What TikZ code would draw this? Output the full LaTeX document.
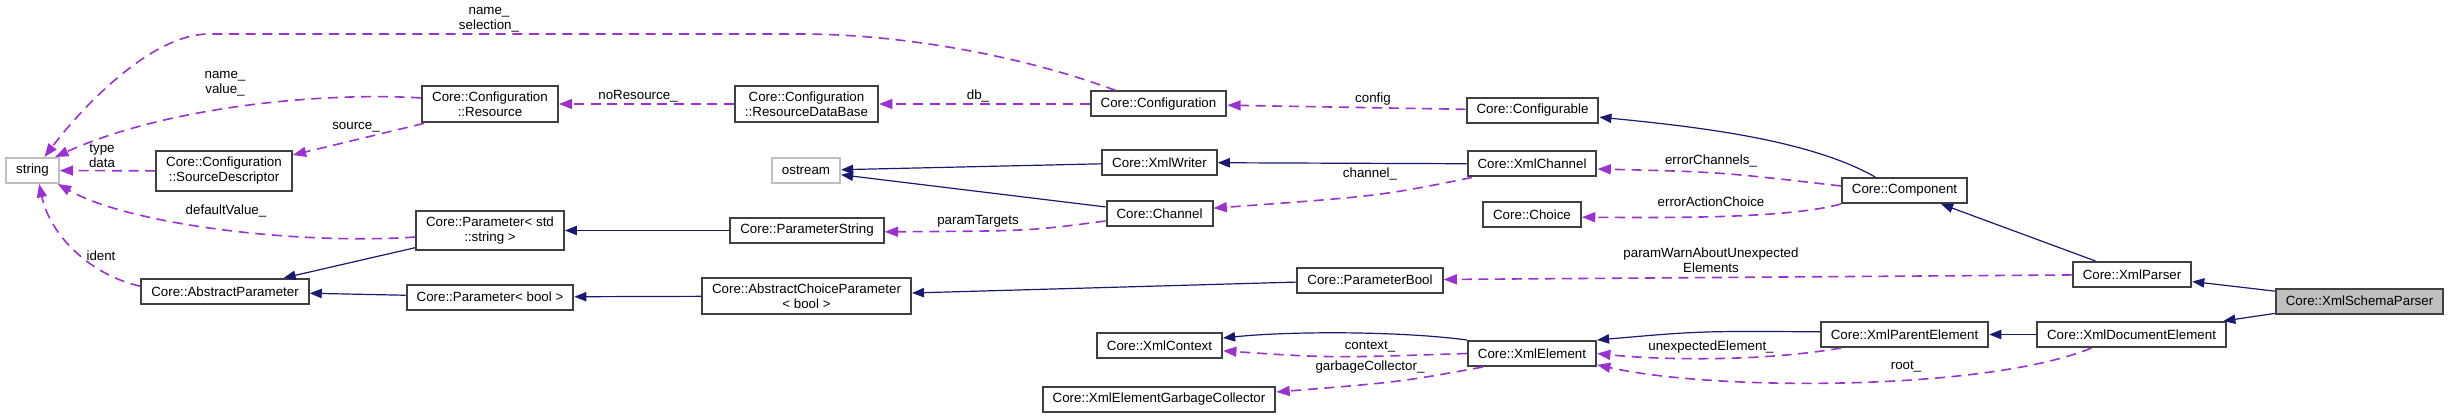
\documentclass[tikz,border=0pt]{standalone}
\usepackage{fontspec}
\setmainfont{Liberation Sans}
\usetikzlibrary{arrows.meta}
\definecolor{edgeblue}{HTML}{191970}
\definecolor{edgepurple}{HTML}{9A32CD}

\begin{document}
\begin{tikzpicture}[
        x=0.75pt, y=-0.75pt,
        font=\fontsize{10}{11.25}\selectfont,
        cls/.style={draw=black!75, line width=1.5pt, fill=white, align=center, inner xsep=7.5pt, inner ysep=4.5pt, minimum height=18.75pt},
        ext/.style={cls, draw=black!25},
        focus/.style={cls, fill=black!25},
        inherit/.style={-{Triangle[length=9pt, width=7pt]}, edgeblue, line width=0.9pt},
        uses/.style={-{Triangle[length=10pt, width=7.5pt]}, edgepurple, line width=1.2pt, dash pattern=on 7.5pt off 5pt},
        lbl/.style={inner sep=0pt, align=center}
    ]
    \useasboundingbox (0,0) rectangle (2448,417);

    % classes, column by column
    \node[ext] (Str) at (32.5,170.5) {string};
    \node[cls] (SourceDesc) at (224,171) {Core::Configuration\\::SourceDescriptor};
    \node[cls] (AbstractParam) at (225,291.5) {Core::AbstractParameter};
    \node[cls] (Resource) at (490,104) {Core::Configuration\\::Resource};
    \node[cls] (ParamStd) at (490,230.5) {Core::Parameter< std\\::string >};
    \node[cls] (ParamBool) at (490,297) {Core::Parameter< bool >};
    \node[cls] (ResourceDB) at (806.5,104) {Core::Configuration\\::ResourceDataBase};
    \node[ext] (Ostream) at (806,170.5) {ostream};
    \node[cls] (ParamString) at (807,230.5) {Core::ParameterString};
    \node[cls] (AbstractChoice) at (806.5,296) {Core::AbstractChoiceParameter\\< bool >};
    \node[cls] (Configuration) at (1158.5,104) {Core::Configuration};
    \node[cls] (XmlWriter) at (1159.5,162.5) {Core::XmlWriter};
    \node[cls] (Channel) at (1159.5,213.5) {Core::Channel};
    \node[cls] (ParameterBool) at (1370,280) {Core::ParameterBool};
    \node[cls] (XmlContext) at (1159.5,345.5) {Core::XmlContext};
    \node[cls] (GarbageColl) at (1159,399) {Core::XmlElementGarbageCollector};
    \node[cls] (Configurable) at (1532.5,110.5) {Core::Configurable};
    \node[cls] (XmlChannel) at (1532,164) {Core::XmlChannel};
    \node[cls] (Choice) at (1532,214.5) {Core::Choice};
    \node[cls] (XmlElement) at (1532,353.5) {Core::XmlElement};
    \node[cls] (Component) at (1904.5,190.5) {Core::Component};
    \node[cls] (ParentElement) at (1904.5,334.5) {Core::XmlParentElement};
    \node[cls] (XmlParser) at (2132,274.5) {Core::XmlParser};
    \node[cls] (DocElement) at (2131.5,334.5) {Core::XmlDocumentElement};
    \node[focus] (SchemaParser) at (2359.5,301) {Core::XmlSchemaParser};

    % inheritance
    \foreach \a/\b in {SchemaParser/XmlParser, SchemaParser/DocElement, XmlParser/Component,
            DocElement/ParentElement, XmlChannel/XmlWriter, XmlWriter/Ostream, Channel/Ostream,
            ParamString/ParamStd, ParamStd/AbstractParam, ParamBool/AbstractParam,
            AbstractChoice/ParamBool, ParameterBool/AbstractChoice} {
        \draw[inherit] (\a) -- (\b);
    }
    \draw[inherit] ([xshift=-22pt]Component.north) .. controls (1810,140) and (1700,127) .. ([yshift=-5pt]Configurable.east);
    \draw[inherit] ([yshift=2pt]ParentElement.west) .. controls (1700,331) .. (XmlElement.north east);
    \draw[inherit] (XmlElement.north west) .. controls (1400,331) and (1290,331) .. ([yshift=5.6pt]XmlContext.east);

    % usage
    \draw[uses] ([xshift=-32pt]Configuration.north) .. controls (1020,55) and (900,34) .. (800,34) -- (209,34) .. controls (150,34) and (80,110) .. ([xshift=9pt]Str.north);
    \draw[uses] ([yshift=4.5pt]Resource.west) .. controls (330,92) and (170,105) .. ([xshift=17pt]Str.north);
    \draw[uses] ([xshift=2pt]Resource.south west) -- ([yshift=12pt]SourceDesc.east);
    \draw[uses] (SourceDesc) -- (Str);
    \draw[uses] (ResourceDB) -- (Resource);
    \draw[uses] (Configuration) -- (ResourceDB);
    \draw[uses] (Configurable) -- (Configuration);
    \draw[uses] ([yshift=-4.9pt]ParamStd.west) .. controls (300,245) and (130,225) .. ([xshift=19pt]Str.south);
    \draw[uses] ([yshift=4pt]AbstractParam.west) .. controls (90,275) and (50,235) .. ([xshift=5pt]Str.south);
    \draw[uses] ([yshift=-5.6pt]Channel.west) .. controls (1030,231) .. ([yshift=-1pt]ParamString.east);
    \draw[uses] ([xshift=4pt]XmlChannel.south west) .. controls (1380,196) .. ([yshift=4pt]Channel.east);
    \draw[uses] ([yshift=3.4pt]Component.west) .. controls (1720,172) .. ([yshift=-3.75pt]XmlChannel.east);
    \draw[uses] (Component.south west) .. controls (1790,218) and (1680,218) .. ([yshift=-2pt]Choice.east);
    \draw[uses] (XmlParser) -- (ParameterBool);
    \draw[uses] (XmlElement.west) .. controls (1330,358) .. ([yshift=-4pt]XmlContext.east);
    \draw[uses] ([xshift=12pt]XmlElement.south west) .. controls (1400,382) .. ([yshift=5.25pt]GarbageColl.east);
    \draw[uses] ([xshift=16pt]ParentElement.south west) .. controls (1760,362) and (1660,360) .. (XmlElement.east);
    \draw[uses] ([xshift=-30pt]DocElement.south) .. controls (1990,390) and (1720,392) .. ([yshift=-8.5pt]XmlElement.east);

    % member labels
    \node[lbl] (lSelection) at (489,19.5) {name\_\\selection\_};
    \node[lbl] (lValue) at (225,83.5) {name\_\\value\_};
    \node[lbl] (lNoResource) at (638,96) {noResource\_};
    \node[lbl] (lSource) at (356,127) {source\_};
    \node[lbl] (lTypeData) at (102,155.5) {type\\data};
    \node[lbl] (lDefault) at (226,211) {defaultValue\_};
    \node[lbl] (lIdent) at (101,256) {ident};
    \node[lbl] (lDb) at (978,96) {db\_};
    \node[lbl] (lConfig) at (1373,99) {config};
    \node[lbl] (lChannel) at (1370,174) {channel\_};
    \node[lbl] (lTargets) at (978,221) {paramTargets};
    \node[lbl] (lErrChannels) at (1711,161) {errorChannels\_};
    \node[lbl] (lErrChoice) at (1711,202) {errorActionChoice};
    \node[lbl] (lWarn) at (1711,260.5) {paramWarnAboutUnexpected\\Elements};
    \node[lbl] (lContext) at (1370,347) {context\_};
    \node[lbl] (lGarbage) at (1370,367) {garbageCollector\_};
    \node[lbl] (lUnexpected) at (1711,347) {unexpectedElement\_};
    \node[lbl] (lRoot) at (1906,367) {root\_};
\end{tikzpicture}
\end{document}
